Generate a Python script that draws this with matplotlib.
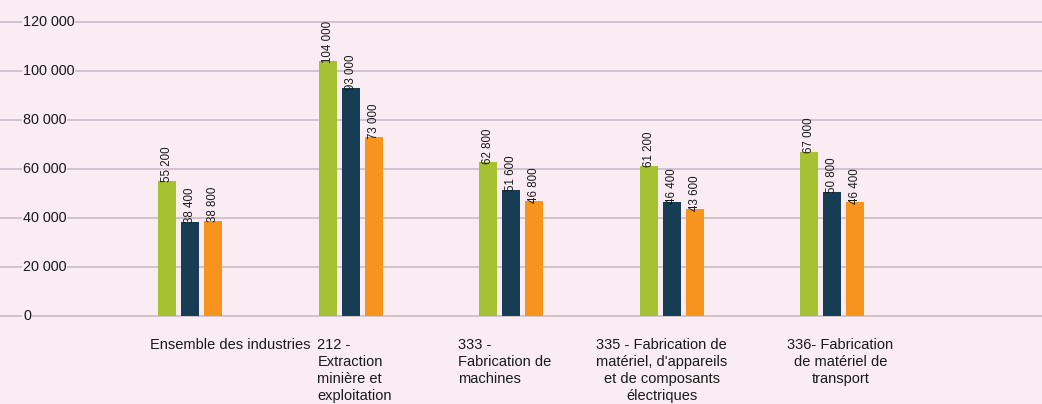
import matplotlib
matplotlib.use("Agg")
import matplotlib.pyplot as plt
import matplotlib.transforms as mtransforms
import numpy as np

# Salaires par branche d'industrie
categories = [
    "Ensemble des industries",
    "212 -\nExtraction\nminière et\nexploitation",
    "333 -\nFabrication de\nmachines",
    "335 - Fabrication de\nmatériel, d'appareils\net de composants\nélectriques",
    "336- Fabrication\nde matériel de\ntransport",
]
series_green = [55200, 104000, 62800, 61200, 67000]
series_navy = [38400, 93000, 51600, 46400, 50800]
series_orange = [38800, 73000, 46800, 43600, 46400]
y_ticks = [0, 20000, 40000, 60000, 80000, 100000, 120000]


def fmt(v):
    return f"{v:,}".replace(",", " ")


BG = "#f9ecf3"
GRID = "#c9bdc7"
COLORS = ["#a6c232", "#163d54", "#f7941e"]
TEXT = "#1a1a1a"

plt.rcParams["font.family"] = ["Liberation Sans", "DejaVu Sans"]

fig = plt.figure(figsize=(10.42, 4.04), dpi=100, facecolor=BG)
W, H = 1042, 404
y0_px, y120_px = 316, 22
px_per_unit = (y0_px - y120_px) / 120000
top_val = y0_px / px_per_unit
ax = fig.add_axes([0, 1 - y0_px / H, 1, y0_px / H])
ax.set_facecolor(BG)

x = np.arange(len(categories))
step_px = 160.6
first_px = 190
ax.set_xlim(-first_px / step_px, (W - first_px) / step_px)
ax.set_ylim(0, top_val)

bar_w = 18 / step_px
offset = 23 / step_px
for k, (vals, col) in enumerate(zip([series_green, series_navy, series_orange], COLORS)):
    xs = x + (k - 1) * offset
    ax.bar(xs, vals, width=bar_w, color=col, zorder=3, linewidth=0)
    for xi, v in zip(xs, vals):
        ax.annotate(fmt(v), (xi, v), xytext=(0, -1), textcoords="offset points",
                    rotation=90, ha="center", va="bottom", fontsize=8.3,
                    color=TEXT, zorder=4)

# gridlines spanning the full width
for t in y_ticks:
    ax.axhline(t, color=GRID, linewidth=1.2, zorder=1, clip_on=False)

ytrans = mtransforms.blended_transform_factory(ax.transAxes, ax.transData)
for t in y_ticks:
    ax.text(23 / W, t, fmt(t), transform=ytrans, ha="left", va="center",
            fontsize=10.4, color=TEXT, zorder=2,
            bbox=dict(facecolor=BG, edgecolor="none", pad=0.5))

for s in ax.spines.values():
    s.set_visible(False)
ax.set_xticks([])
ax.set_yticks([])

# category labels under each group
xtrans = mtransforms.blended_transform_factory(ax.transData, fig.transFigure)
label_y = 1 - 338 / H
shifts_px = [40, 4, -7, -10, 8]
aligns = ["center", "left", "left", "center", "center"]
for i, (lab, sh, al) in enumerate(zip(categories, shifts_px, aligns)):
    t = ax.text(x[i], label_y, lab, transform=xtrans, ha="center", va="top",
                multialignment=al, fontsize=10.5, color=TEXT, linespacing=1.28)
    t.set_transform(xtrans + mtransforms.ScaledTranslation(sh / 100, 0, fig.dpi_scale_trans))

fig.savefig("out.png", dpi=100, facecolor=BG)
